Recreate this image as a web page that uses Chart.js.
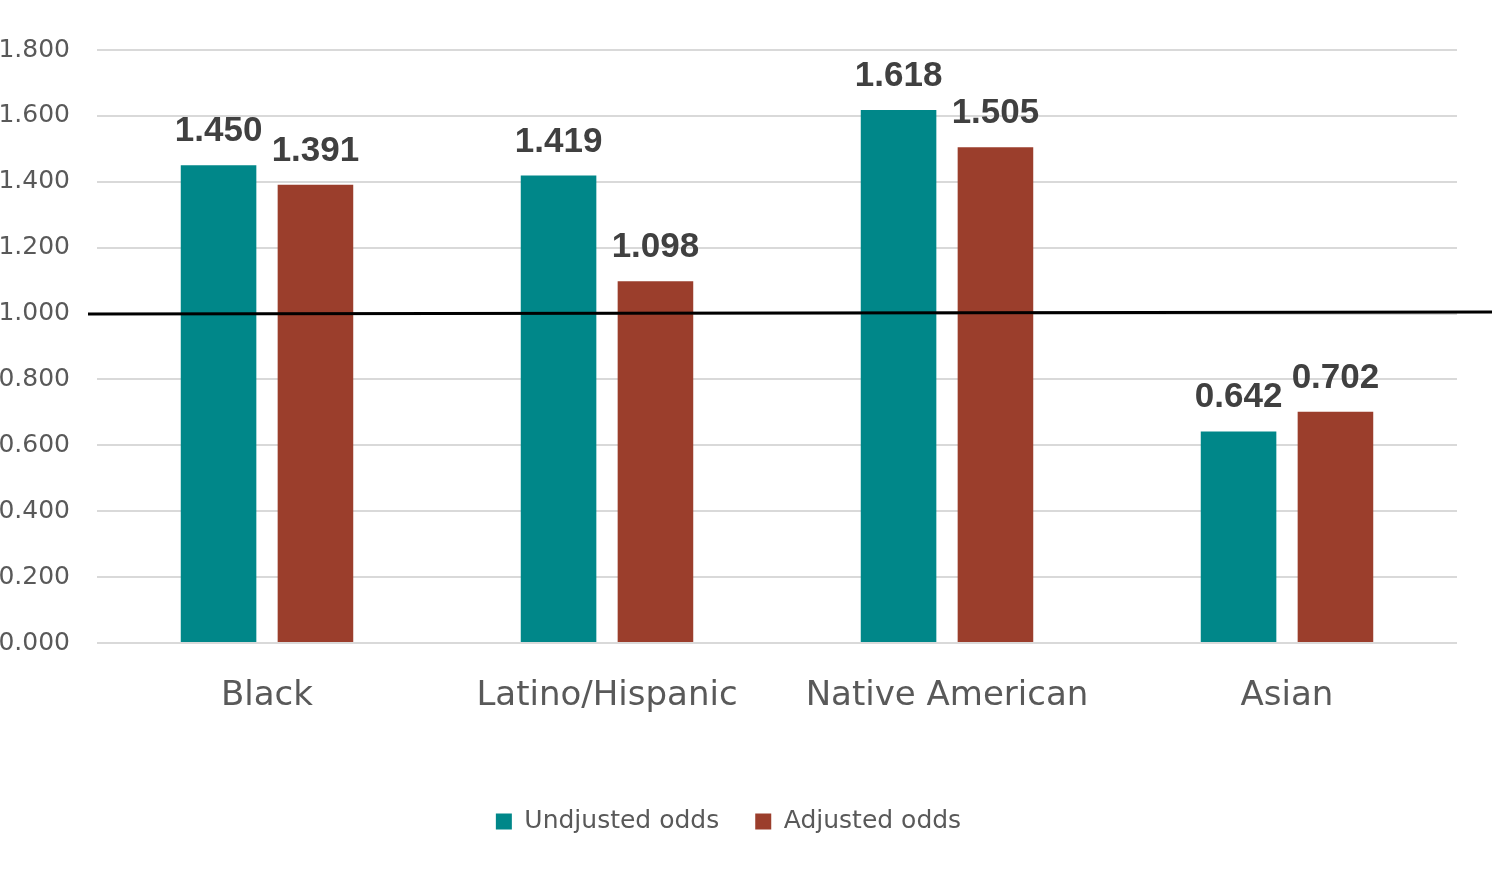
<!DOCTYPE html>
<html>
<head>
<meta charset="utf-8">
<script src="https://cdn.jsdelivr.net/npm/chart.js@4"></script>
<style>
  html, body { margin: 0; padding: 0; background: #fff; }
  #wrap { width: 1500px; height: 870px; }
</style>
</head>
<body>
<div id="wrap"><canvas id="oddsChart"></canvas></div>
<script>
const categories = ['Black', 'Latino/Hispanic', 'Native American', 'Asian'];
const unadjusted = [1.450, 1.419, 1.618, 0.642];
const adjusted = [1.391, 1.098, 1.505, 0.702];
const seriesNames = ['Undjusted odds', 'Adjusted odds'];
const referenceValue = 1.0;

// value labels above each bar
const barLabels = {
    id: 'barLabels',
    afterDatasetsDraw(chart) {
        const ctx = chart.ctx;
        ctx.save();
        ctx.font = 'bold 35px "Liberation Sans", Arial, sans-serif';
        ctx.fillStyle = '#404040';
        ctx.textAlign = 'center';
        ctx.textBaseline = 'alphabetic';
        chart.data.datasets.forEach((ds, i) => {
            chart.getDatasetMeta(i).data.forEach((bar, j) => {
                ctx.fillText(ds.data[j].toFixed(3), bar.x, bar.y - 24);
            });
        });
        ctx.restore();
    }
};

// black reference line at 1.000
const refLine = {
    id: 'refLine',
    afterDatasetsDraw(chart) {
        const ctx = chart.ctx;
        const y = chart.scales.y.getPixelForValue(referenceValue);
        ctx.save();
        ctx.strokeStyle = '#000';
        ctx.lineWidth = 3;
        ctx.beginPath();
        ctx.moveTo(88, y + 0.5);
        ctx.lineTo(1492, y - 1.5);
        ctx.stroke();
        ctx.restore();
    }
};

const ctx = document.getElementById('oddsChart').getContext('2d');
new Chart(ctx, {
    type: 'bar',
    data: {
        labels: categories,
        datasets: [{
            label: seriesNames[0],
            data: unadjusted,
            backgroundColor: '#008789'
        }, {
            label: seriesNames[1],
            data: adjusted,
            backgroundColor: '#9b3e2c'
        }]
    },
    options: {
        responsive: true,
        maintainAspectRatio: false,
        devicePixelRatio: 1,
        animation: false,
        categoryPercentage: 0.57,
        barPercentage: 0.78,
        layout: {
            padding: { top: 50, right: 43, bottom: 26, left: 0 }
        },
        plugins: {
            tooltip: { enabled: false },
            legend: {
                position: 'bottom',
                labels: {
                    boxWidth: 16,
                    boxHeight: 16,
                    padding: 36,
                    color: '#595959',
                    font: { family: '"DejaVu Sans", sans-serif', size: 25 }
                }
            }
        },
        scales: {
            x: {
                grid: { display: false, drawTicks: false },
                border: { display: false },
                ticks: {
                    color: '#595959',
                    padding: 33,
                    font: { family: '"DejaVu Sans", sans-serif', size: 34 }
                },
                afterFit(scale) { scale.height = 130; }
            },
            y: {
                min: 0,
                max: 1.8,
                grid: { color: '#d9d9d9', lineWidth: 2, drawTicks: false },
                border: { display: false },
                ticks: {
                    stepSize: 0.2,
                    padding: 27,
                    color: '#595959',
                    font: { family: '"DejaVu Sans", sans-serif', size: 25 },
                    callback: v => v.toFixed(3)
                },
                afterFit(scale) { scale.width = 97; }
            }
        }
    },
    plugins: [barLabels, refLine]
});
</script>
</body>
</html>
